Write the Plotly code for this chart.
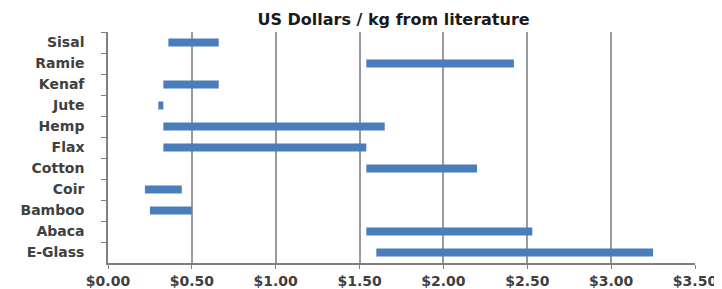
import plotly.graph_objects as go

categories = ["Sisal", "Ramie", "Kenaf", "Jute", "Hemp", "Flax", "Cotton", "Coir", "Bamboo", "Abaca", "E-Glass"]
low_usd = [0.36, 1.54, 0.33, 0.30, 0.33, 0.33, 1.54, 0.22, 0.25, 1.54, 1.60]
high_usd = [0.66, 2.42, 0.66, 0.33, 1.65, 1.54, 2.20, 0.44, 0.50, 2.53, 3.25]
x_ticks = [0, 0.5, 1.0, 1.5, 2.0, 2.5, 3.0, 3.5]
x_tick_labels = ["$0.00", "$0.50", "$1.00", "$1.50", "$2.00", "$2.50", "$3.00", "$3.50"]
title_text = "US Dollars / kg from literature"

fig = go.Figure(go.Bar(
    y=categories,
    x=[h - l for l, h in zip(low_usd, high_usd)],
    base=low_usd,
    orientation="h",
    marker=dict(color="#4a7dbb", line=dict(width=0)),
    width=0.38,
))

font = dict(family="DejaVu Sans", size=14, color="#404040", weight="bold")

# page body has an 8px default margin, so margins are offset to place the plot area
fig.update_layout(
    width=722, height=289,
    margin=dict(l=100, r=35, t=24, b=34),
    paper_bgcolor="white", plot_bgcolor="white",
    showlegend=False,
    title=dict(text=title_text, x=0.534, xanchor="center", y=0.962, yanchor="middle",
               font=dict(family="DejaVu Sans", size=16, color="#1a1a1a", weight="bold")),
    xaxis=dict(
        range=[0, 3.5], tickvals=x_ticks, ticktext=x_tick_labels,
        showgrid=True, gridcolor="#9a9a9a", gridwidth=2,
        showline=True, linecolor="#7f7f7f", linewidth=1.5,
        ticks="outside", ticklen=4, tickcolor="#7f7f7f",
        tickfont=font, zeroline=False, automargin=False,
    ),
    yaxis=dict(
        categoryorder="array", categoryarray=categories, autorange="reversed",
        showline=True, linecolor="#7f7f7f", linewidth=1.5,
        ticks="outside", ticklen=5, tickcolor="#7f7f7f", tickson="boundaries",
        tickfont=font, showgrid=False, ticklabelstandoff=19, automargin=False,
    ),
)

fig.write_html("out.html")
